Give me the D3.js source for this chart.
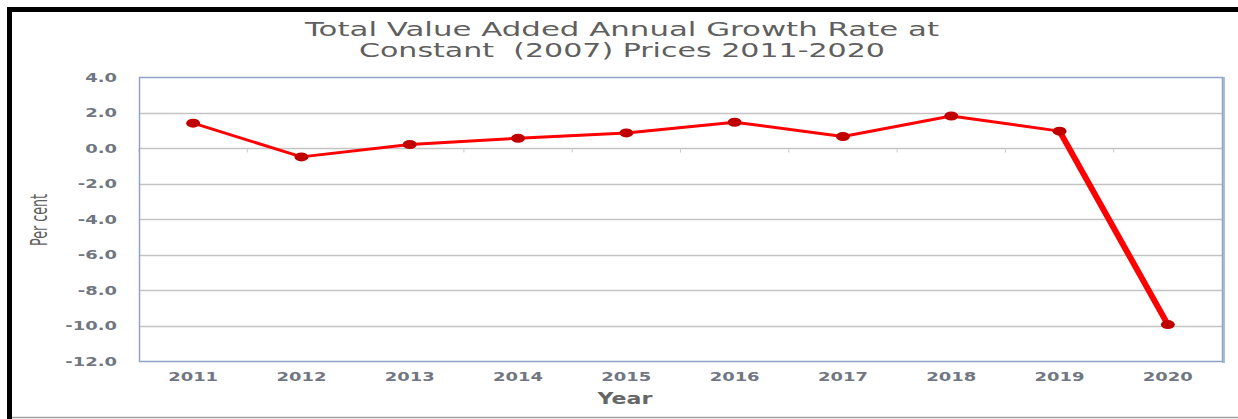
<!DOCTYPE html>
<html>
<head>
<meta charset="utf-8">
<script src="https://cdn.jsdelivr.net/npm/d3@7"></script>
<style>
  body { margin: 0; background: #fff; }
  svg { display: block; }
</style>
</head>
<body>
<div id="chart"></div>
<script>
//data
var years = ["2011", "2012", "2013", "2014", "2015", "2016", "2017", "2018", "2019", "2020"];
var growth = [1.4, -0.5, 0.2, 0.55, 0.85, 1.45, 0.65, 1.8, 0.95, -9.95];
var yTicks = [4, 2, 0, -2, -4, -6, -8, -10, -12];
var titleLines = ["Total Value Added Annual Growth Rate at", "Constant  (2007) Prices 2011-2020"];

var W = 1238, H = 419;
var plot = {left: 139, right: 1222, top: 77, bottom: 361};
//the picture is stretched sideways, so the text is too
var stretch = 1.38;

var svg = d3.select("#chart").append("svg")
  .attr("width", W)
  .attr("height", H);

//widen a text by the stretch factor
function widen(sel, k) {
  sel.each(function() {
    var w = this.getComputedTextLength();
    d3.select(this)
      .attr("textLength", w * (k || stretch))
      .attr("lengthAdjust", "spacingAndGlyphs");
  });
}

//black frame of the figure box (cut off at the top)
svg.append("path")
  .attr("d", "M9.5," + H + " V9.5 H" + W)
  .attr("fill", "none")
  .attr("stroke", "#000")
  .attr("stroke-width", 5);
svg.append("line")
  .attr("x1", 12).attr("x2", W)
  .attr("y1", 417.5).attr("y2", 417.5)
  .attr("stroke", "#a0a0a0")
  .attr("stroke-width", 1.5);

//scales
var x = d3.scaleBand()
  .domain(years)
  .range([plot.left, plot.right]);

var y = d3.scaleLinear()
  .domain([-12, 4])
  .range([plot.bottom, plot.top]);

//title
var titleWidths = [634, 526];
svg.append("g").attr("class", "title")
  .selectAll("text")
  .data(titleLines)
  .enter()
  .append("text")
  .attr("x", 622)
  .attr("y", function(d, i) { return 36 + i*21; })
  .attr("text-anchor", "middle")
  .attr("font-family", "'DejaVu Sans', sans-serif")
  .attr("font-size", 19)
  .attr("fill", "#5f5f5f")
  .attr("textLength", function(d, i) { return titleWidths[i]; })
  .attr("lengthAdjust", "spacingAndGlyphs")
  .attr("xml:space", "preserve")
  .text(function(d) { return d; });

//gridlines
svg.append("g").attr("class", "grid")
  .selectAll("line")
  .data(yTicks.filter(function(d) { return d > -12 && d < 4; }))
  .enter()
  .append("line")
  .attr("x1", plot.left)
  .attr("x2", plot.right)
  .attr("y1", function(d) { return Math.round(y(d)) + 0.5; })
  .attr("y2", function(d) { return Math.round(y(d)) + 0.5; })
  .attr("stroke", "#c4c4c4")
  .attr("stroke-width", 1.3);

//small category ticks on the zero line
var xAxis = svg.append("g")
  .attr("transform", "translate(0," + (Math.round(y(0)) + 0.5) + ")")
  .call(d3.axisBottom(x).tickSize(4).tickFormat(""));
xAxis.select(".domain").remove();
xAxis.selectAll(".tick line")
  .attr("transform", function() { return "translate(" + (-x.bandwidth()/2) + ",0)"; })
  .attr("stroke", "#c8c8c8");

//plot frame
svg.append("line")
  .attr("x1", plot.right + 1.5).attr("x2", plot.right + 1.5)
  .attr("y1", plot.top).attr("y2", plot.bottom + 2)
  .attr("stroke", "#aabde0")
  .attr("stroke-width", 3);
svg.append("rect")
  .attr("x", plot.left + 0.5)
  .attr("y", plot.top + 0.5)
  .attr("width", plot.right - plot.left)
  .attr("height", plot.bottom - plot.top)
  .attr("fill", "none")
  .attr("stroke", "#8fa5c6")
  .attr("stroke-width", 1.5);

//y tick labels
svg.append("g").attr("class", "ylabels")
  .selectAll("text")
  .data(yTicks)
  .enter()
  .append("text")
  .attr("x", 117)
  .attr("y", function(d) { return y(d); })
  .attr("dy", "0.35em")
  .attr("text-anchor", "end")
  .attr("font-family", "'DejaVu Sans', Verdana, sans-serif")
  .attr("font-weight", "bold")
  .attr("font-size", 13)
  .attr("fill", "#707682")
  .text(function(d) { return d3.format(".1f")(d).replace("−", "-"); })
  .call(widen);

//x tick labels
svg.append("g").attr("class", "xlabels")
  .selectAll("text")
  .data(years)
  .enter()
  .append("text")
  .attr("x", function(d) { return x(d) + x.bandwidth()/2; })
  .attr("y", 381)
  .attr("text-anchor", "middle")
  .attr("font-family", "'DejaVu Sans', Verdana, sans-serif")
  .attr("font-weight", "bold")
  .attr("font-size", 13)
  .attr("fill", "#707682")
  .text(function(d) { return d; })
  .call(widen);

//axis titles
svg.append("text")
  .attr("x", 625)
  .attr("y", 404)
  .attr("text-anchor", "middle")
  .attr("font-family", "'DejaVu Sans', sans-serif")
  .attr("font-weight", "bold")
  .attr("font-size", 16)
  .attr("fill", "#666")
  .text("Year")
  .call(widen);

svg.append("text")
  .attr("transform", "translate(47,220) rotate(-90)")
  .attr("text-anchor", "middle")
  .attr("font-family", "'Liberation Sans Narrow', 'DejaVu Sans Condensed', sans-serif")
  .attr("font-size", 23)
  .attr("textLength", 52)
  .attr("lengthAdjust", "spacingAndGlyphs")
  .attr("fill", "#606060")
  .text("Per cent");

//line segments (last one drawn heavier)
var pts = years.map(function(d, i) { return {year: d, value: growth[i]}; });
var segs = d3.pairs(pts);

svg.append("g").attr("class", "line")
  .selectAll("line")
  .data(segs)
  .enter()
  .append("line")
  .attr("x1", function(d) { return x(d[0].year) + x.bandwidth()/2; })
  .attr("y1", function(d) { return y(d[0].value); })
  .attr("x2", function(d) { return x(d[1].year) + x.bandwidth()/2; })
  .attr("y2", function(d) { return y(d[1].value); })
  .attr("stroke", "#ff0000")
  .attr("stroke-linecap", "round")
  .attr("stroke-width", function(d, i) { return i === segs.length - 1 ? 6 : 3; });

//markers
svg.append("g").attr("class", "markers")
  .selectAll("ellipse")
  .data(pts)
  .enter()
  .append("ellipse")
  .attr("cx", function(d) { return x(d.year) + x.bandwidth()/2; })
  .attr("cy", function(d) { return y(d.value); })
  .attr("rx", 7)
  .attr("ry", 4.5)
  .attr("fill", "#c00000");
</script>
</body>
</html>
